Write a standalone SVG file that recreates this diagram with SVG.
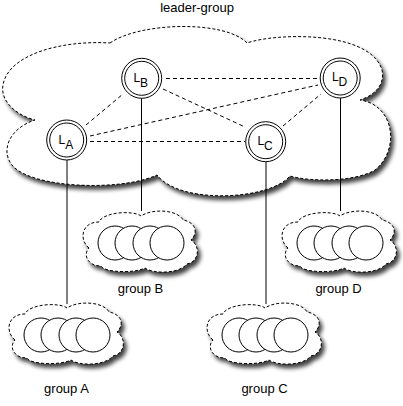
<svg xmlns="http://www.w3.org/2000/svg" width="403" height="406" viewBox="0 0 403 406">
<style>
.cloud{fill:#fff;stroke:#000;stroke-width:1;stroke-dasharray:3,2;filter:url(#sh)}
.mem{fill:#fff;stroke:#000;stroke-width:1}
.ring{fill:#fff;stroke:#000;stroke-width:1}
.lbl{font-family:"Liberation Sans",Arial,sans-serif;font-size:13px;fill:#000;text-anchor:middle}
.nl{font-family:"Liberation Sans",Arial,sans-serif;font-size:12px;fill:#000}
.dash{stroke:#000;stroke-width:1;stroke-dasharray:4,3;fill:none}
.solid{stroke:#000;stroke-width:1;fill:none}
</style>
<defs>
<filter id="sh" x="-10%" y="-10%" width="125%" height="130%">
<feGaussianBlur in="SourceAlpha" stdDeviation="2"/>
<feOffset dx="3" dy="4" result="b"/>
<feComponentTransfer><feFuncA type="linear" slope="0.75"/></feComponentTransfer>
<feMerge><feMergeNode/><feMergeNode in="SourceGraphic"/></feMerge>
</filter>
<path id="sc" d="M6,38 C-4,30 -2,12 16,12 C20,2 50,0 58,6 C70,-2 95,0 100,10 C112,12 116,22 108,30 C118,36 116,52 104,54 C96,64 70,64 62,58 C50,64 20,62 18,56 C4,56 0,44 6,38 Z"/>
<g id="members">
<circle class="mem" cx="32" cy="33" r="17"/>
<circle class="mem" cx="49" cy="33" r="17"/>
<circle class="mem" cx="67" cy="33" r="17"/>
<circle class="mem" cx="84" cy="33" r="17"/>
</g>
</defs>

<g id="leader-group">
<path class="cloud" d="M110,43 C140,22 225,20 247,43 C275,33 370,30 382,70 C385,85 375,95 360,100 C395,105 400,150 375,170 C355,182 310,182 290,176 C270,200 180,205 157,175 C120,192 30,188 12,165 C0,150 10,128 35,120 C15,115 0,100 3,85 C8,55 60,40 110,43 Z"/>
<text class="lbl" x="197" y="12">leader-group</text>
</g>

<g id="connectors">
<line class="dash" x1="166" y1="78.5" x2="318" y2="78.5"/>
<line class="dash" x1="163" y1="89" x2="245" y2="127"/>
<line class="dash" x1="86" y1="125" x2="123" y2="94"/>
<line class="dash" x1="90" y1="136" x2="318" y2="85"/>
<line class="dash" x1="90" y1="141.5" x2="245" y2="141.5"/>
<line class="dash" x1="283" y1="126" x2="321" y2="94"/>
<line class="solid" x1="67" y1="160" x2="67" y2="304"/>
<line class="solid" x1="141.5" y1="98" x2="141.5" y2="211"/>
<line class="solid" x1="266" y1="162" x2="266" y2="304"/>
<line class="solid" x1="340.5" y1="98" x2="340.5" y2="211"/>
</g>

<g id="LA">
<circle class="ring" cx="66.7" cy="140" r="20"/>
<circle class="ring" cx="66.7" cy="140" r="17"/>
<text class="nl" x="58.5" y="143.5">L<tspan dy="5">A</tspan></text>
</g>
<g id="LB">
<circle class="ring" cx="141.7" cy="78.3" r="20"/>
<circle class="ring" cx="141.7" cy="78.3" r="17"/>
<text class="nl" x="133.4" y="81.7">L<tspan dy="5">B</tspan></text>
</g>
<g id="LC">
<circle class="ring" cx="265.7" cy="141.7" r="20"/>
<circle class="ring" cx="265.7" cy="141.7" r="17"/>
<text class="nl" x="257.4" y="145.1">L<tspan dy="5">C</tspan></text>
</g>
<g id="LD">
<circle class="ring" cx="340.2" cy="78" r="20"/>
<circle class="ring" cx="340.2" cy="78" r="17"/>
<text class="nl" x="331.9" y="81.4">L<tspan dy="5">D</tspan></text>
</g>

<g id="groupB" transform="translate(83,210)">
<use href="#sc" class="cloud"/>
<use href="#members"/>
</g>
<text class="lbl" x="140.5" y="293">group B</text>

<g id="groupD" transform="translate(282,210)">
<use href="#sc" class="cloud"/>
<use href="#members"/>
</g>
<text class="lbl" x="338.5" y="293">group D</text>

<g id="groupA" transform="translate(9,302)">
<use href="#sc" class="cloud"/>
<use href="#members"/>
</g>
<text class="lbl" x="66.5" y="393">group A</text>

<g id="groupC" transform="translate(207,302)">
<use href="#sc" class="cloud"/>
<use href="#members"/>
</g>
<text class="lbl" x="264.5" y="393">group C</text>
</svg>
